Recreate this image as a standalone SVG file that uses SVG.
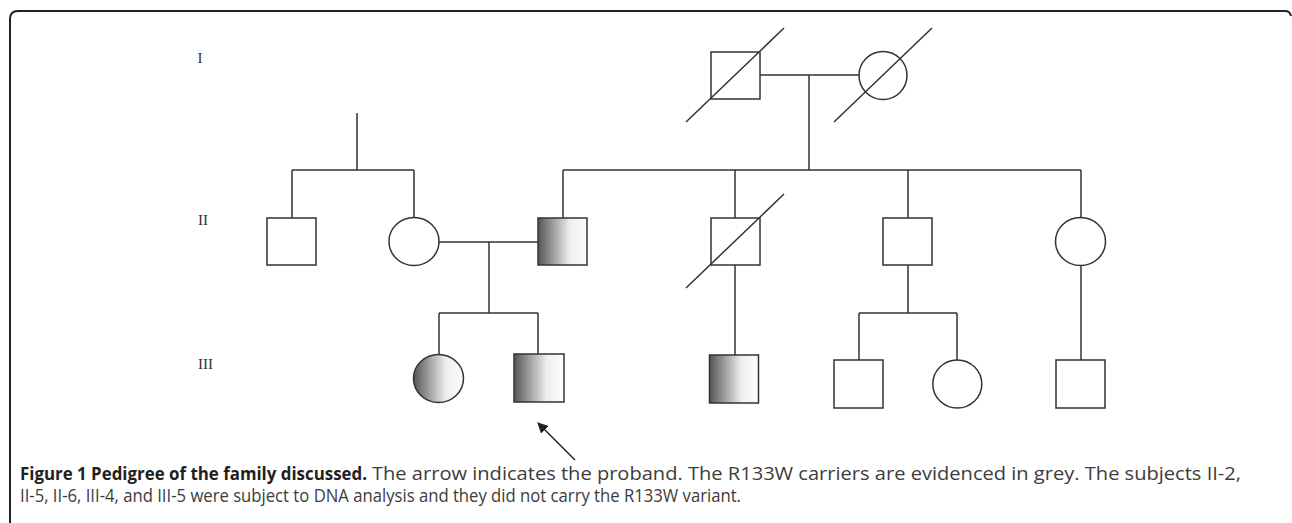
<svg xmlns="http://www.w3.org/2000/svg" width="1292" height="523" viewBox="0 0 1292 523">
<style>
.ln{stroke:#333;stroke-width:1.5;fill:none}
.nd{stroke:#333;stroke-width:1.5;fill:#fff}
.sh{stroke:#333;stroke-width:1.5;fill:url(#g)}
.gen{font-family:"Liberation Serif",serif;font-size:15px;fill:#333}
.cap{font-family:"Open Sans","Liberation Sans",sans-serif;font-size:18px}
</style>
<defs>
<linearGradient id="g" x1="0" y1="0" x2="1" y2="0">
<stop offset="0" stop-color="#555"/>
<stop offset="0.65" stop-color="#eee"/>
<stop offset="1" stop-color="#fdfdfd"/>
</linearGradient>
<marker id="ah" viewBox="0 0 10 10" refX="9" refY="5" markerWidth="11" markerHeight="11" markerUnits="userSpaceOnUse" orient="auto">
<path d="M0,0 L10,5 L0,10 Z" fill="#222"/>
</marker>
</defs>
<rect width="1292" height="523" fill="#fff"/>
<path d="M10,523 V19 Q10,11 18,11 H1285 Q1290,11 1291,16" stroke="#222" stroke-width="2" fill="none"/>
<text class="gen" x="200" y="63" text-anchor="middle">I</text>
<text class="gen" x="203" y="225" text-anchor="middle">II</text>
<text class="gen" x="205.5" y="369" text-anchor="middle">III</text>
<g id="connectors">
<path class="ln" d="M760,75 H859 M809,75 V170 M563,170 H1081"/>
<path class="ln" d="M357,113 V170 M292,170 H414 M292,170 V218 M414,170 V218"/>
<path class="ln" d="M563,170 V218 M735,170 V218 M908,170 V218 M1081,170 V218"/>
<path class="ln" d="M439,242 H538 M489,242 V313 M439,313 H538 M439,313 V354 M538,313 V354"/>
<path class="ln" d="M735,265 V355"/>
<path class="ln" d="M908,265 V313 M859,313 H957 M859,313 V360 M957,313 V360"/>
<path class="ln" d="M1081,265 V360"/>
</g>
<g id="I-1"><rect class="nd" x="711" y="52" width="49" height="47"/><line class="ln" x1="686" y1="122" x2="784" y2="28"/></g>
<g id="I-2"><circle class="nd" cx="883" cy="75.5" r="24"/><line class="ln" x1="834" y1="122" x2="932" y2="28"/></g>
<g id="II-1"><rect class="nd" x="267" y="218" width="49" height="47"/></g>
<g id="II-2"><ellipse class="nd" cx="414" cy="241.5" rx="25" ry="24"/></g>
<g id="II-3"><rect class="sh" x="538" y="218" width="49" height="47"/></g>
<g id="II-4"><rect class="nd" x="711" y="218" width="49" height="47"/><line class="ln" x1="686" y1="288" x2="784" y2="194"/></g>
<g id="II-5"><rect class="nd" x="883" y="218" width="49" height="47"/></g>
<g id="II-6"><ellipse class="nd" cx="1080.5" cy="241.5" rx="25" ry="24"/></g>
<g id="III-1"><ellipse class="sh" cx="438.5" cy="378.5" rx="25" ry="24"/></g>
<g id="III-2"><rect class="sh" x="514" y="354" width="50" height="48"/></g>
<g id="III-3"><rect class="sh" x="709.5" y="355" width="49" height="48"/></g>
<g id="III-4"><rect class="nd" x="834" y="360" width="49" height="48"/></g>
<g id="III-5"><ellipse class="nd" cx="957.3" cy="384" rx="24.5" ry="24"/></g>
<g id="III-6"><rect class="nd" x="1056" y="360" width="49" height="48"/></g>
<g id="arrow"><line x1="575" y1="460" x2="538" y2="423" stroke="#222" stroke-width="1.5" marker-end="url(#ah)"/></g>
<text class="cap" x="20" y="480" font-weight="bold" fill="#231f20" textLength="347" lengthAdjust="spacingAndGlyphs">Figure 1 Pedigree of the family discussed.</text>
<text class="cap" x="372" y="480" fill="#3c3c3c" textLength="869" lengthAdjust="spacingAndGlyphs">The arrow indicates the proband. The R133W carriers are evidenced in grey. The subjects II-2,</text>
<text class="cap" x="20" y="502" fill="#3c3c3c" textLength="721" lengthAdjust="spacingAndGlyphs">II-5, II-6, III-4, and III-5 were subject to DNA analysis and they did not carry the R133W variant.</text>
</svg>
